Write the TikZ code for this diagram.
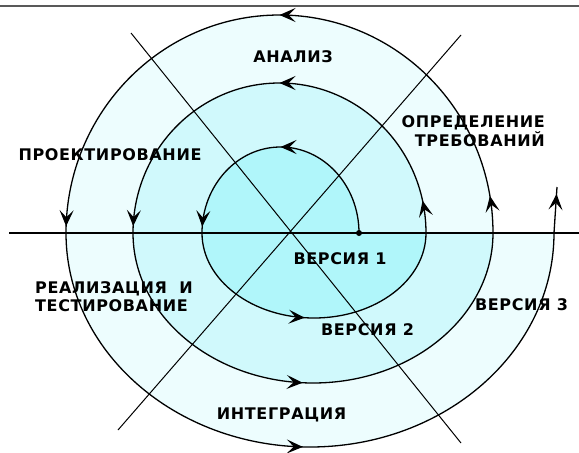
\documentclass[tikz,border=0pt]{standalone}
\usepackage{fontspec}
\setmainfont{DejaVu Sans}
\newfontfamily\labelfont{DejaVu Sans}[LetterSpace=4]
\usetikzlibrary{arrows.meta, decorations.markings}

\definecolor{ringone}{RGB}{176,246,250}
\definecolor{ringtwo}{RGB}{208,249,252}
\definecolor{ringthree}{RGB}{237,253,254}
\newcommand{\spiraltip}{\arrow{Stealth[length=16pt,width=14pt,inset=7pt]}}

\begin{document}
\begin{tikzpicture}[x=1pt, y=-1pt,
  lbl/.style={font=\labelfont\bfseries\fontsize{16}{18.5}\selectfont, inner sep=0pt},
  coil/.style={line width=1.3pt},
  midtip/.style={postaction={decorate, decoration={markings, mark=at position #1 with {\spiraltip}}}}]
\useasboundingbox (0,0) rectangle (579,453);

% frame edge
\draw[gray!70!black, line width=1.5pt] (0,6) -- (579,6);

% coloured turns of the spiral
\fill[ringthree] (493,233) arc[start angle=0, end angle=-180, x radius=213.5, y radius=218]
  arc[start angle=180, end angle=0, x radius=244, y radius=214] -- cycle;
\fill[ringtwo] (426,233) arc[start angle=0, end angle=-180, x radius=146.5, y radius=150]
  arc[start angle=180, end angle=0, x radius=180, y radius=150] -- cycle;
\fill[ringone] (359,233) arc[start angle=0, end angle=-180, x radius=78.5, y radius=86]
  arc[start angle=180, end angle=0, x radius=112, y radius=85] -- cycle;

% axes
\coordinate (axisl) at (9,233);
\coordinate (axisr) at (579,233);
\coordinate (diagnw) at (131,33);
\coordinate (diagse) at (461,443);
\coordinate (diagne) at (461,35);
\coordinate (diagsw) at (118,430);
\draw[line width=2.2pt] (axisl) -- (axisr);
\draw[line width=1pt] (diagnw) -- (diagse);
\draw[line width=1pt] (diagne) -- (diagsw);

% spiral
\coordinate (start) at (359,233);
\coordinate (turnone) at (426,233);
\coordinate (turntwo) at (493,233);
\coordinate (turnthree) at (554,233);
\coordinate (finish) at (557,187);
\fill (start) circle (3pt);
\draw[coil, midtip=0.5, midtip=0.975] (start)
  arc[start angle=0, end angle=-180, x radius=78.5, y radius=86];
\draw[coil, midtip=0.47] (202,233)
  arc[start angle=180, end angle=0, x radius=112, y radius=85];
\draw[coil, midtip=0.07, midtip=0.5, midtip=0.985] (turnone)
  arc[start angle=0, end angle=-180, x radius=146.5, y radius=150];
\draw[coil, midtip=0.48] (133,233)
  arc[start angle=180, end angle=0, x radius=180, y radius=150];
\draw[coil, midtip=0.055, midtip=0.5, midtip=0.99] (turntwo)
  arc[start angle=0, end angle=-180, x radius=213.5, y radius=218];
\draw[coil, midtip=0.49] (66,233)
  arc[start angle=180, end angle=0, x radius=244, y radius=214];
\draw[coil, midtip=0.85] (turnthree) -- (finish);

% labels
\node[lbl] (analiz) at (293,57) {АНАЛИЗ};
\node[lbl, align=right, anchor=east] (trebovaniya) at (545,131) {ОПРЕДЕЛЕНИЕ\\ТРЕБОВАНИЙ};
\node[lbl] (proekt) at (110,155) {ПРОЕКТИРОВАНИЕ};
\node[lbl] (versone) at (340,259) {ВЕРСИЯ 1};
\node[lbl, align=left] (realiz) at (114,296.5) {РЕАЛИЗАЦИЯ\ \ И\\ТЕСТИРОВАНИЕ};
\node[lbl] (verstwo) at (367.5,330) {ВЕРСИЯ 2};
\node[lbl] (versthree) at (521.5,305) {ВЕРСИЯ 3};
\node[lbl] (integr) at (281.5,415) {ИНТЕГРАЦИЯ};
\end{tikzpicture}
\end{document}
